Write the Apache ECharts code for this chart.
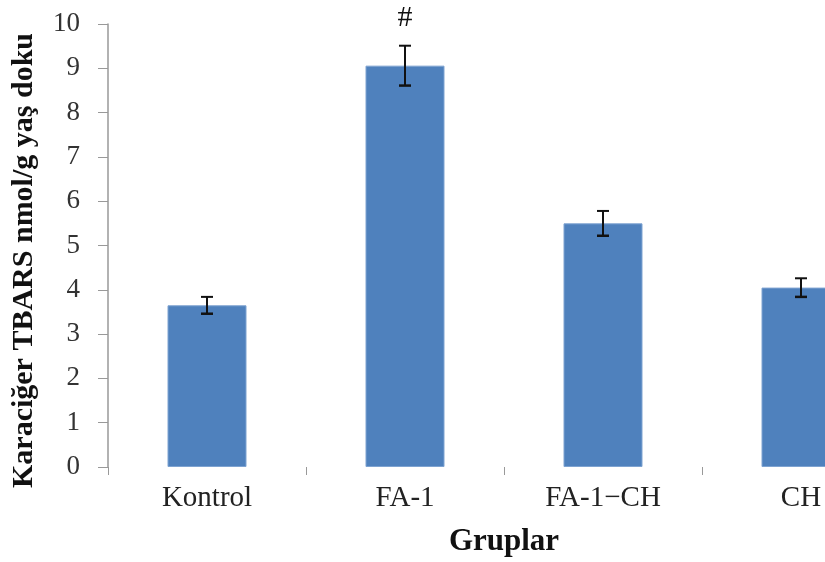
<!DOCTYPE html>
<html><head><meta charset="utf-8">
<script src="https://cdn.jsdelivr.net/npm/echarts@6/dist/echarts.min.js"></script>
<style>html,body{margin:0;padding:0;background:#fff;overflow:hidden;width:825px;height:562px}#c{width:900px;height:562px}</style>
</head><body><div id="c"></div>
<script>
var categories = ['Kontrol', 'FA-1', 'FA-1\u2212CH', 'CH'];
var means = [3.65, 9.06, 5.50, 4.05];
var errors = [0.19, 0.45, 0.28, 0.21];
var marks = ['', '#', '', ''];
var yTicks = [0, 1, 2, 3, 4, 5, 6, 7, 8, 9, 10];

var chart = echarts.init(document.getElementById('c'));
var font = 'Liberation Serif, Times New Roman, serif';
chart.setOption({
  animation: false,
  grid: { left: 108, top: 24, right: 0, bottom: 95, containLabel: false },
  xAxis: {
    type: 'category', data: categories,
    axisLine: { show: false },
    axisTick: { show: true, length: 8, lineStyle: { color: '#999', width: 1 } },
    axisLabel: { fontFamily: font, fontSize: 29, color: '#222', margin: 17 },
    name: 'Gruplar', nameLocation: 'middle', nameGap: 59,
    nameTextStyle: { fontFamily: font, fontSize: 31, fontWeight: 'bold', color: '#111' }
  },
  yAxis: {
    type: 'value', min: 0, max: 10, interval: 1,
    axisLine: { show: true, lineStyle: { color: '#999', width: 1.5 } },
    axisTick: { show: true, length: 10, lineStyle: { color: '#999', width: 1 } },
    splitLine: { show: false },
    axisLabel: { fontFamily: font, fontSize: 27, color: '#333', margin: 28,
      formatter: function (v) { return yTicks.indexOf(v) >= 0 ? String(v) : ''; } },
    name: 'Karaciğer TBARS nmol/g yaş doku', nameLocation: 'middle', nameGap: 69,
    nameTextStyle: { fontFamily: font, fontSize: 30, fontWeight: 'bold', color: '#111', padding: [0, 30, 0, 0] }
  },
  series: [
    {
      type: 'bar', data: means, barWidth: 79,
      itemStyle: { color: '#4f81bd', borderColor: '#7ea3d1', borderWidth: 1 },
      label: { show: true, position: 'top', distance: 33,
        formatter: function (p) { return marks[p.dataIndex]; },
        fontFamily: font, fontSize: 30, color: '#111' }
    },
    {
      type: 'custom',
      data: means.map(function (m, i) { return [i, m - errors[i], m + errors[i]]; }),
      renderItem: function (params, api) {
        var lo = api.coord([api.value(0), api.value(1)]);
        var hi = api.coord([api.value(0), api.value(2)]);
        var w = 6;
        var st = { stroke: '#111', lineWidth: 2 };
        return { type: 'group', children: [
          { type: 'line', shape: { x1: lo[0], y1: lo[1], x2: hi[0], y2: hi[1] }, style: st },
          { type: 'line', shape: { x1: lo[0] - w, y1: lo[1], x2: lo[0] + w, y2: lo[1] }, style: { stroke: '#111', lineWidth: 2.5 } },
          { type: 'line', shape: { x1: hi[0] - w, y1: hi[1], x2: hi[0] + w, y2: hi[1] }, style: st }
        ] };
      },
      z: 10
    }
  ]
});
</script></body></html>
